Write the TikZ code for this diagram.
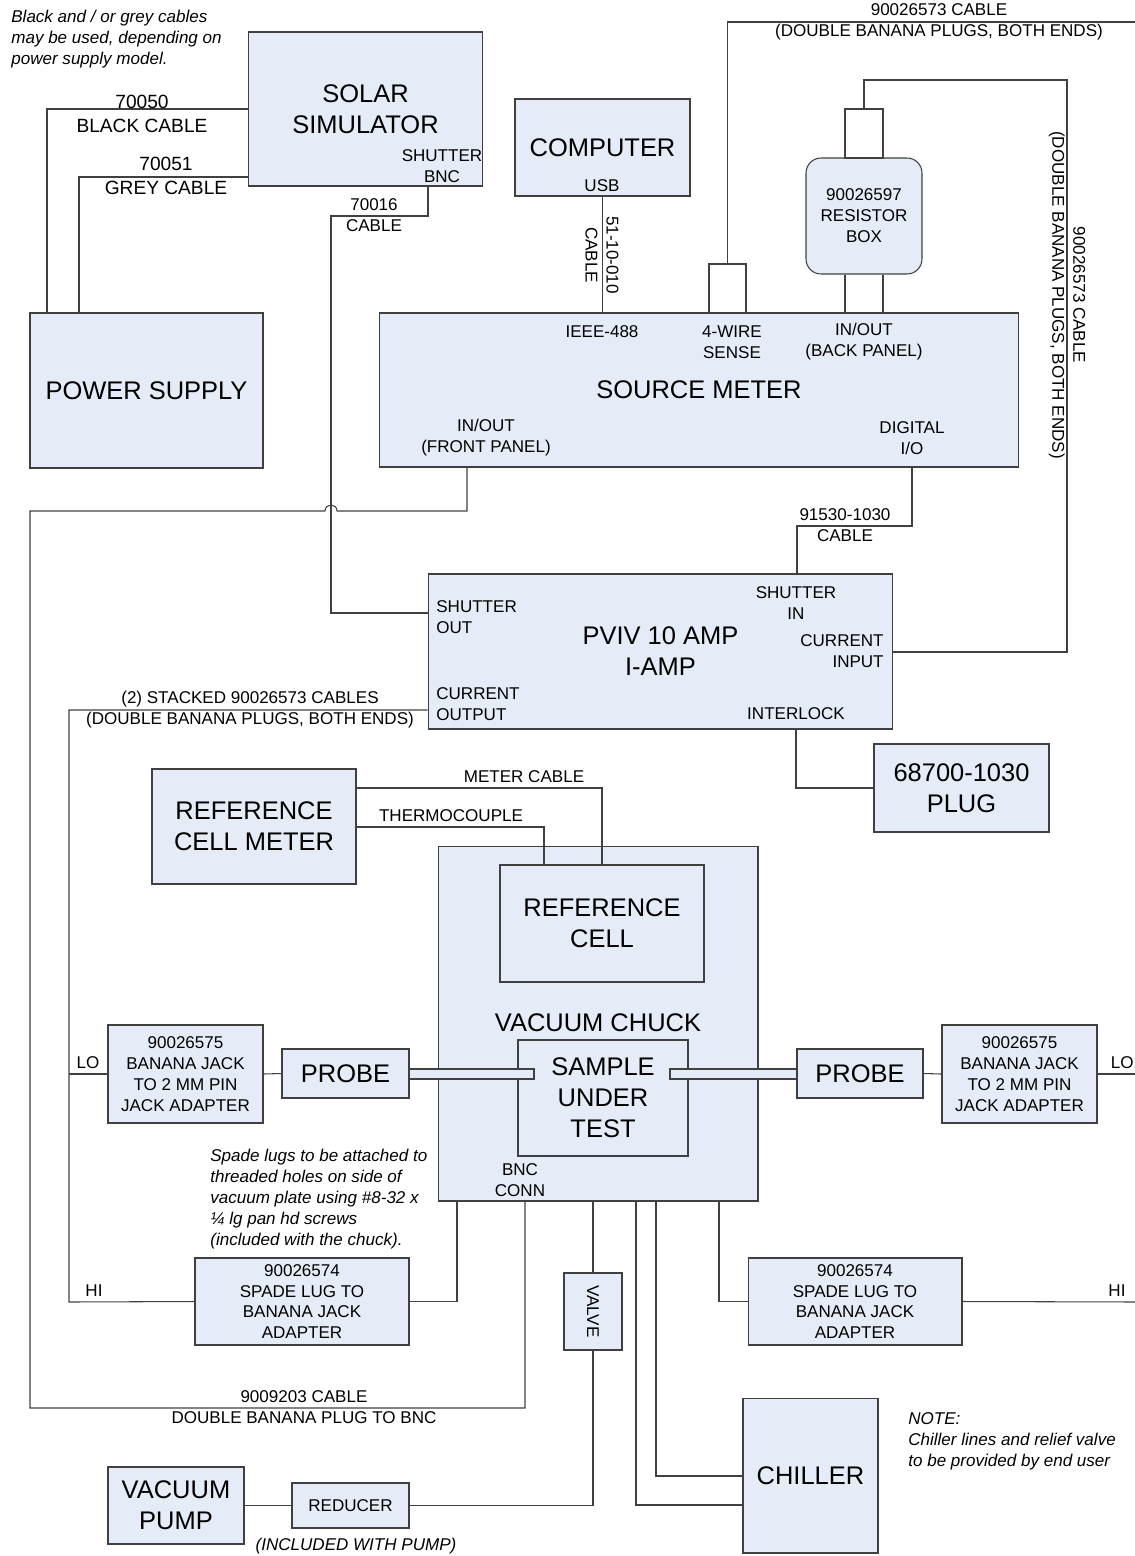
\documentclass[tikz,border=0pt]{standalone}
\usepackage{fontspec}
\setmainfont{Liberation Sans}
\definecolor{boxfill}{RGB}{230,236,247}
\definecolor{wire}{RGB}{64,64,64}
\newcommand{\fBig}{\fontsize{14.5}{17.6}\selectfont}
\newcommand{\fMid}{\fontsize{10.9}{13.6}\selectfont}
\newcommand{\fSml}{\fontsize{9.7}{11.9}\selectfont}
\tikzset{
  unit/.style={draw=wire, fill=boxfill, line width=0.6pt, inner sep=0pt, align=center, font=\fBig},
  port/.style={inner sep=0pt, align=center, font=\fSml},
  cable/.style={draw=wire, line width=0.6pt},
  remark/.style={inner sep=0pt, align=left, font=\fSml\itshape, anchor=north west},
  jackbox/.style={draw=wire, fill=white, line width=0.6pt, inner sep=0pt},
}
\begin{document}
\begin{tikzpicture}[x=0.02cm, y=-0.02cm]
\useasboundingbox (0,0) rectangle (1135,1556);

% units
\node[unit, minimum width=4.68cm, minimum height=3.08cm] (solar) at (365.5,109) {SOLAR\\SIMULATOR};
\node[unit, minimum width=3.5cm, minimum height=1.94cm] (computer) at (602.5,147.5) {COMPUTER};
\node[unit, minimum width=4.66cm, minimum height=3.1cm] (power) at (146.5,390.5) {POWER SUPPLY};
\node[unit, minimum width=12.8cm, minimum height=3.08cm] (meter) at (699,390) {SOURCE METER};
\node[unit, font=\fSml, rounded corners=0.3cm, minimum width=2.32cm, minimum height=2.32cm] (resbox) at (864,216) {90026597\\RESISTOR\\BOX};
\node[jackbox, minimum width=0.74cm, minimum height=0.98cm] (sense) at (727.5,288.5) {};
\node[jackbox, minimum width=0.76cm, minimum height=0.98cm] (resjack) at (864,133.5) {};
\node[unit, minimum width=9.3cm, minimum height=3.1cm] (pviv) at (660.5,651.5) {PVIV 10 AMP\\I-AMP};
\node[unit, minimum width=3.5cm, minimum height=1.76cm] (plug) at (961.5,788) {68700-1030\\PLUG};
\node[unit, minimum width=4.08cm, minimum height=2.3cm] (refmeter) at (254,826.5) {REFERENCE\\CELL METER};
\node[unit, minimum width=6.4cm, minimum height=7.1cm] (chuck) at (598,1023.5) {};
\node[inner sep=0pt, font=\fBig] (chucktitle) at (598,1023) {VACUUM CHUCK};
\node[unit, minimum width=4.08cm, minimum height=2.34cm] (refcell) at (602,923.5) {REFERENCE\\CELL};
\node[unit, minimum width=3.4cm, minimum height=2.32cm] (sample) at (603,1098) {SAMPLE\\UNDER\\TEST};
\node[unit, minimum width=2.5cm, minimum height=0.2cm] (pinL) at (471.5,1074) {};
\node[unit, minimum width=2.54cm, minimum height=0.2cm] (pinR) at (733.5,1074) {};
\node[unit, minimum width=2.54cm, minimum height=0.98cm] (probeL) at (345.5,1073.5) {PROBE};
\node[unit, minimum width=2.52cm, minimum height=0.98cm] (probeR) at (860,1073.5) {PROBE};
\node[unit, font=\fSml, minimum width=3.1cm, minimum height=1.96cm] (adaptL) at (185.5,1074) {90026575\\BANANA JACK\\TO 2 MM PIN\\JACK ADAPTER};
\node[unit, font=\fSml, minimum width=3.1cm, minimum height=1.96cm] (adaptR) at (1019.5,1074) {90026575\\BANANA JACK\\TO 2 MM PIN\\JACK ADAPTER};
\node[unit, font=\fSml, minimum width=4.28cm, minimum height=1.74cm] (spadeL) at (302,1301.5) {90026574\\SPADE LUG TO\\BANANA JACK\\ADAPTER};
\node[unit, font=\fSml, minimum width=4.28cm, minimum height=1.74cm] (spadeR) at (855,1301.5) {90026574\\SPADE LUG TO\\BANANA JACK\\ADAPTER};
\node[unit, font=\fSml, minimum width=1.16cm, minimum height=1.54cm] (valve) at (593,1311.5) {};
\node[port, rotate=-90] (valvetext) at (valve.center) {VALVE};
\node[unit, font=\fSml, minimum width=2.34cm, minimum height=0.9cm] (reducer) at (350.5,1505.5) {REDUCER};
\node[unit, minimum width=2.72cm, minimum height=1.54cm] (pump) at (176,1505.5) {VACUUM\\PUMP};
\node[unit, minimum width=2.7cm, minimum height=3.1cm] (chiller) at (810.5,1475.5) {CHILLER};

% ports
\node[port] (shutbnc) at (442,166.5) {SHUTTER\\BNC};
\node[port] (usb) at (602,186) {USB};
\node[port] (ieee) at (602,332) {IEEE-488};
\node[port] (wire4) at (732,342) {4-WIRE\\SENSE};
\node[port] (back) at (864,342) {IN/OUT\\(BACK PANEL)};
\node[port] (front) at (486,438) {IN/OUT\\(FRONT PANEL)};
\node[port] (digio) at (912,438) {DIGITAL\\I/O};
\node[port, align=left, anchor=west] (shutout) at (436,617) {SHUTTER\\OUT};
\node[port, align=left, anchor=west] (curout) at (436,704) {CURRENT\\OUTPUT};
\node[port] (shutin) at (796,603) {SHUTTER\\IN};
\node[port, align=right, anchor=east] (curin) at (884,651) {CURRENT\\INPUT};
\node[port] (interlock) at (796,714) {INTERLOCK};
\node[port] (bnc) at (520,1180) {BNC\\CONN};

% free cable ends
\coordinate (topend) at (1140,22);
\coordinate (loend) at (1140,1074);
\coordinate (hiend) at (1140,1302);

% cables
\draw[cable] (solar.west |- 0,109) -| (47,0 |- power.north);
\draw[cable] (solar.west |- 0,177) -| (79,0 |- power.north);
\draw[cable] (428,0 |- solar.south) |- (331,216) |- (pviv.west |- 0,613);
\draw[cable] (computer.south) -- (meter.north -| computer.south);
\draw[cable] (sense.north) |- (topend);
\draw[cable] (resjack.north) |- (1067,80) |- (pviv.east |- 0,652);
\draw[cable] (resbox.south -| 845,0) -- (meter.north -| 845,0);
\draw[cable] (resbox.south -| 883,0) -- (meter.north -| 883,0);
\draw[cable] (meter.south -| 467,0) |- (337,511) .. controls (337,503) and (325,503) .. (325,511) -- (30,511) |- (525,1408) -- (chuck.south -| 525,0);
\draw[cable] (meter.south -| 912,0) |- (797,526) -- (pviv.north -| 797,0);
\draw[cable] (pviv.west |- 0,710) -| (69,1302) -- (spadeL.west);
\draw[cable] (69,1074) -- (adaptL.west);
\draw[cable] (adaptL.east) -- (probeL.west);
\draw[cable] (pviv.south -| 796,0) |- (plug.west);
\draw[cable] (refmeter.east |- 0,788) -| (refcell.north);
\draw[cable] (refmeter.east |- 0,827) -| (refcell.north -| 544,0);
\draw[cable] (probeR.east) -- (adaptR.west);
\draw[cable] (adaptR.east) -- (loend);
\draw[cable] (spadeL.east) -| (457,0 |- chuck.south);
\draw[cable] (spadeR.west) -| (719,0 |- chuck.south);
\draw[cable] (spadeR.east) -- (hiend);
\draw[cable] (chuck.south -| valve.north) -- (valve.north);
\draw[cable] (valve.south) |- (reducer.east);
\draw[cable] (pump.east) -- (reducer.west);
\draw[cable] (636,0 |- chuck.south) |- (chiller.west |- 0,1505);
\draw[cable] (656,0 |- chuck.south) |- (chiller.west |- 0,1476);

% cable labels
\node[port, font=\fMid] (lbl70050) at (142,114) {70050\\BLACK CABLE};
\node[port, font=\fMid] (lbl70051) at (166,176) {70051\\GREY CABLE};
\node[port] (lbl70016) at (374,215.5) {70016\\CABLE};
\node[port, rotate=-90] (lblusb) at (602,255) {51-10-010\\CABLE};
\node[port] (lbltop) at (939,22) {90026573 CABLE\\(DOUBLE BANANA PLUGS, BOTH ENDS)};
\node[port, rotate=-90] (lblright) at (1067,295) {90026573 CABLE\\(DOUBLE BANANA PLUGS, BOTH ENDS)};
\node[port] (lbldio) at (845,525.5) {91530-1030\\CABLE};
\node[port] (lblstack) at (250,709.5) {(2) STACKED 90026573 CABLES\\(DOUBLE BANANA PLUGS, BOTH ENDS)};
\node[port] (lblmeter) at (524,777) {METER CABLE};
\node[port] (lbltc) at (451,816) {THERMOCOUPLE};
\node[port] (lbllo) at (88,1063) {LO};
\node[port, anchor=east] (lbllo2) at (1134,1063) {LO};
\node[port] (lblhi) at (94,1291) {HI};
\node[port] (lblhi2) at (1117,1291) {HI};
\node[port] (lblbnc) at (304,1407.5) {9009203 CABLE\\DOUBLE BANANA PLUG TO BNC};
\node[port, font=\fSml\itshape] (lblpump) at (356,1546) {(INCLUDED WITH PUMP)};

% notes
\node[remark] (cablenote) at (11,10) {Black and / or grey cables\\may be used, depending on\\power supply model.};
\node[remark] (spadenote) at (210,1149) {Spade lugs to be attached to\\threaded holes on side of\\vacuum plate using \#8-32 x\\¼ lg pan hd screws\\(included with the chuck).};
\node[remark] (chillnote) at (908,1412) {NOTE:\\Chiller lines and relief valve\\to be provided by end user};
\end{tikzpicture}
\end{document}
